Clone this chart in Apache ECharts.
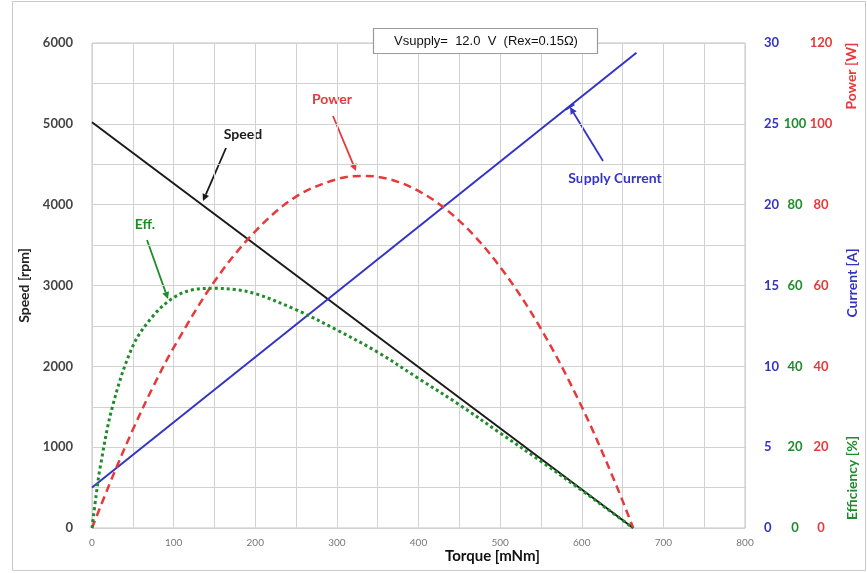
<!DOCTYPE html>
<html>
<head>
<meta charset="utf-8">
<script src="https://cdn.jsdelivr.net/npm/echarts@6/dist/echarts.min.js"></script>
<style>
html, body { margin: 0; padding: 0; background: #fff; }
#chart { width: 867px; height: 573px; }
</style>
</head>
<body>
<div id="chart"></div>
<script>
// values
const speedTorque = [0, 663];
const speedRpm = [5020, 0];
const currentTorque = [0, 667];
const currentAmp = [2.5, 29.4];
const powerTorque = [0, 25, 50, 75, 100, 150, 200, 250, 300, 330, 350, 400, 450, 500, 550, 600, 640, 663];
const powerW = [0, 12.6, 24.3, 35, 44.6, 61, 73.4, 82, 86.3, 87.1, 86.9, 83.4, 76, 64.6, 49.3, 30, 11.7, 0];
const effTorque = [0, 5, 10, 25, 50, 75, 100, 125, 150, 175, 200, 250, 300, 350, 400, 450, 500, 550, 600, 640, 663];
const effPct = [0, 8, 15, 30, 45, 52.5, 57, 59, 59.3, 59, 58, 54, 49, 43.5, 37, 30.5, 23.5, 16.5, 9.3, 3.4, 0];

const C_SPEED = "#1a1a1a";
const C_CURR = "#3333c4";
const C_EFF = "#1f8c2a";
const C_POW = "#e8383a";
const FONT = "Lato, 'Open Sans', sans-serif";

const pairs = (xs, ys) => xs.map((x, i) => [x, ys[i]]);

const arrow = (x1, y1, x2, y2, color, bar) => {
    const a = Math.atan2(y2 - y1, x2 - x1);
    const L = 7, W = 3.5;
    const bx = x2 - L * Math.cos(a), by = y2 - L * Math.sin(a);
    const items = [
        { type: "line", shape: { x1, y1, x2: bx, y2: by }, style: { stroke: color, lineWidth: 1.8 } },
        {
            type: "polygon",
            shape: { points: [[x2, y2], [bx - W * Math.sin(a), by + W * Math.cos(a)], [bx + W * Math.sin(a), by - W * Math.cos(a)]] },
            style: { fill: color }
        }
    ];
    if (bar) {
        // little cross bar at the tip, as on the current pointer
        items.push({
            type: "line",
            shape: { x1: x2 - 5 * Math.sin(a), y1: y2 + 5 * Math.cos(a), x2: x2 + 5 * Math.sin(a), y2: y2 - 5 * Math.cos(a) },
            style: { stroke: color, lineWidth: 1.8 }
        });
    }
    return items;
};

const label = (text, x, y, color, rot) => ({
    type: "text",
    x, y,
    rotation: rot || 0,
    style: { text, fill: color, font: "bold 14px " + FONT, textAlign: "center", textVerticalAlign: "middle" }
});

const rightAxis = (max, interval, color, margin, align, hideTop) => ({
    type: "value",
    position: "right",
    offset: 0,
    min: 0,
    max,
    interval,
    axisLine: { show: false },
    axisTick: { show: false },
    splitLine: { show: false },
    axisLabel: {
        color,
        fontFamily: FONT,
        fontSize: 13,
        fontWeight: "bold",
        margin,
        align,
        formatter: v => (hideTop && v === max ? "" : v)
    }
});

const chart = echarts.init(document.getElementById("chart"));
const option = {
    backgroundColor: "#fff",
    animation: false,
    grid: { left: 92, right: 122, top: 43, bottom: 45, show: true, borderColor: "#c4c4c4", borderWidth: 1 },
    xAxis: {
        type: "value",
        min: 0,
        max: 800,
        interval: 50,
        axisLine: { show: false },
        axisTick: { show: false },
        splitLine: { lineStyle: { color: "#d2d2d2", width: 1 } },
        axisLabel: {
            color: "#777",
            fontFamily: FONT,
            fontSize: 10,
            margin: 10,
            formatter: v => (v % 100 === 0 ? v : "")
        }
    },
    yAxis: [
        {
            type: "value",
            min: 0,
            max: 6000,
            interval: 500,
            name: "Speed [rpm]",
            nameLocation: "middle",
            nameGap: 56,
            nameTextStyle: { color: "#222", fontFamily: FONT, fontSize: 14, fontWeight: "bold" },
            axisLine: { show: false },
            axisTick: { show: false },
            splitLine: { lineStyle: { color: "#d2d2d2", width: 1 } },
            axisLabel: {
                color: "#444",
                fontFamily: FONT,
                fontSize: 13,
                fontWeight: "bold",
                margin: 19,
                formatter: v => (v % 1000 === 0 ? v : "")
            }
        },
        rightAxis(30, 5, C_CURR, 19, "left", false),
        rightAxis(120, 20, C_EFF, 50, "center", true),
        rightAxis(120, 20, C_POW, 76, "center", false)
    ],
    series: [
        {
            name: "Speed",
            type: "line",
            yAxisIndex: 0,
            symbol: "none",
            data: pairs(speedTorque, speedRpm),
            lineStyle: { color: C_SPEED, width: 2 }
        },
        {
            name: "Supply Current",
            type: "line",
            yAxisIndex: 1,
            symbol: "none",
            data: pairs(currentTorque, currentAmp),
            lineStyle: { color: C_CURR, width: 2 }
        },
        {
            name: "Power",
            type: "line",
            yAxisIndex: 3,
            symbol: "none",
            smooth: 0.35,
            data: pairs(powerTorque, powerW),
            lineStyle: { color: C_POW, width: 2.5, type: [8, 5] }
        },
        {
            name: "Eff.",
            type: "line",
            yAxisIndex: 2,
            symbol: "none",
            smooth: 0.35,
            data: pairs(effTorque, effPct),
            lineStyle: { color: C_EFF, width: 3, type: [3, 3], cap: "butt" }
        }
    ],
    graphic: [
        { type: "rect", shape: { x: 12.5, y: 1.5, width: 853, height: 569 }, style: { fill: null, stroke: "#c8c8c8", lineWidth: 1 }, silent: true },
        { type: "rect", shape: { x: 373.5, y: 28.5, width: 224, height: 25 }, style: { fill: "#fff", stroke: "#9a9a9a", lineWidth: 1.2 }, z: 100 },
        {
            type: "text", x: 486, y: 41, z: 101,
            style: { text: "Vsupply=  12.0  V  (Rex=0.15Ω)", fill: "#111", font: "13px 'Liberation Sans Narrow', 'Liberation Sans', sans-serif", textAlign: "center", textVerticalAlign: "middle" }
        },
        { type: "text", x: 445, y: 556, style: { text: "Torque [mNm]", fill: "#111", font: "bold 15px " + FONT, textVerticalAlign: "middle" } },
        label("Power [W]", 851, 76, C_POW, Math.PI / 2),
        label("Current [A]", 852, 283, C_CURR, Math.PI / 2),
        label("Efficiency [%]", 852, 478, C_EFF, Math.PI / 2),
        label("Speed", 243, 134, C_SPEED),
        ...arrow(226, 148, 203, 201, C_SPEED),
        label("Power", 332, 99, C_POW),
        ...arrow(333, 116, 356, 171, C_POW),
        label("Supply Current", 615, 178, C_CURR),
        ...arrow(603, 161, 570, 107, C_CURR, true),
        label("Eff.", 145, 224, C_EFF),
        ...arrow(147, 240, 168, 299, C_EFF)
    ]
};
chart.setOption(option);
</script>
</body>
</html>
